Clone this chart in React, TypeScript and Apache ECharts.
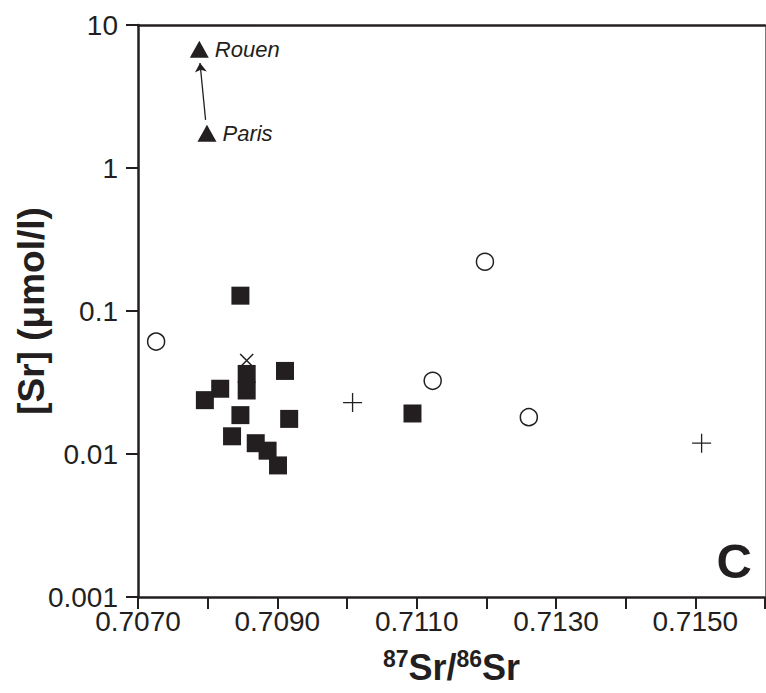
import React, { useEffect, useRef } from 'react';
import * as echarts from 'echarts';

const FONT = 'Liberation Sans, Arial, Helvetica, sans-serif';
const INK = '#231f20';

// Filled squares
const squareX = [0.70847, 0.70856, 0.70856, 0.70911, 0.70818, 0.70796, 0.70847, 0.70917, 0.70835, 0.70869, 0.70886, 0.70901, 0.71094];
const squareY = [0.128, 0.0363, 0.0278, 0.0381, 0.0286, 0.0238, 0.0187, 0.0176, 0.0133, 0.0119, 0.01055, 0.00832, 0.0192];
// Open circles
const circleX = [0.70726, 0.71198, 0.71123, 0.71261];
const circleY = [0.0611, 0.221, 0.0325, 0.0181];
// Plus signs
const plusX = [0.71008, 0.71509];
const plusY = [0.0229, 0.0119];
// X mark
const crossX = [0.70856];
const crossY = [0.045];
// Triangles (cities)
const cityNames = ['Rouen', 'Paris'];
const cityX = [0.70788, 0.70799];
const cityY = [6.76, 1.75];
// Arrow Paris -> Rouen
const arrowX = [0.70797, 0.70789];
const arrowY = [2.17, 5.42];

const zip = (xs: number[], ys: number[]) => xs.map((x, i) => [x, ys[i]]);

export default function App() {
  const ref = useRef<HTMLDivElement>(null);
  useEffect(() => {
    document.body.style.margin = '0';
    const chart = echarts.init(ref.current!, null, { renderer: 'svg' });
    chart.setOption({
      animation: false,
      backgroundColor: '#fff',
      grid: { left: 138, right: 1, top: 25, bottom: 96, containLabel: false, outerBoundsMode: 'none' },
      xAxis: [
        {
          type: 'value',
          position: 'bottom',
          min: 0.707,
          max: 0.716,
          interval: 0.001,
          axisLine: { show: true, onZero: false, lineStyle: { color: INK, width: 2.5 } },
          axisTick: { show: true, inside: false, length: 12, lineStyle: { color: INK, width: 2 } },
          splitLine: { show: false },
          axisLabel: {
            fontSize: 28,
            fontFamily: FONT,
            color: INK,
            margin: 10,
            formatter: (v: number) => {
              const k = Math.round(v * 10000);
              return (k - 7070) % 20 === 0 && k < 7160 ? (k / 10000).toFixed(4) : '';
            },
          },
          name: '{sup|87}{b|Sr/}{sup|86}{b|Sr}',
          nameLocation: 'middle',
          nameGap: 50,
          nameTextStyle: {
            rich: {
              b: { fontSize: 36, fontWeight: 'bold', fontFamily: FONT, color: INK, lineHeight: 40 },
              sup: { fontSize: 23, fontWeight: 'bold', fontFamily: FONT, color: INK, lineHeight: 40, verticalAlign: 'top' },
            },
          },
        },
        {
          type: 'value',
          position: 'top',
          min: 0.707,
          max: 0.716,
          axisLine: { show: true, onZero: false, lineStyle: { color: INK, width: 2.5 } },
          axisTick: { show: false },
          axisLabel: { show: false },
          splitLine: { show: false },
        },
      ],
      yAxis: [
        {
          type: 'log',
          logBase: 10,
          min: 0.001,
          max: 10,
          position: 'left',
          axisLine: { show: true, onZero: false, lineStyle: { color: INK, width: 2.5 } },
          axisTick: { show: true, inside: false, length: 12, lineStyle: { color: INK, width: 2 } },
          minorTick: { show: false },
          splitLine: { show: false },
          axisLabel: {
            fontSize: 28,
            fontFamily: FONT,
            color: INK,
            margin: 20,
            formatter: (v: number) => String(Number(v.toPrecision(1))),
          },
          name: '[Sr] (μmol/l)',
          nameLocation: 'middle',
          nameRotate: 90,
          nameGap: 88,
          nameMoveOverlap: false,
          nameTextStyle: { fontSize: 37, fontWeight: 'bold', fontFamily: FONT, color: INK },
        },
        {
          type: 'log',
          logBase: 10,
          min: 0.001,
          max: 10,
          position: 'right',
          axisLine: { show: true, onZero: false, lineStyle: { color: '#777', width: 1 } },
          axisTick: { show: false },
          axisLabel: { show: false },
          splitLine: { show: false },
        },
      ],
      graphic: [
        {
          type: 'text',
          right: 14,
          top: 536,
          style: { text: 'C', font: `bold 49px ${FONT}`, fill: INK },
        },
      ],
      series: [
        {
          type: 'scatter',
          name: 'cross',
          symbol: 'path://M0,0L10,10M10,0L0,10',
          symbolSize: 13,
          itemStyle: { color: 'none', borderColor: INK, borderWidth: 1.5, opacity: 1 },
          data: zip(crossX, crossY),
          z: 1,
        },
        {
          type: 'scatter',
          name: 'squares',
          symbol: 'rect',
          symbolSize: 18,
          itemStyle: { color: INK, opacity: 1 },
          data: zip(squareX, squareY),
          z: 2,
        },
        {
          type: 'scatter',
          name: 'circles',
          symbol: 'circle',
          symbolSize: 17,
          itemStyle: { color: '#fff', borderColor: INK, borderWidth: 1.5, opacity: 1 },
          data: zip(circleX, circleY),
          z: 2,
        },
        {
          type: 'scatter',
          name: 'plus',
          symbol: 'path://M0,10L20,10M10,0L10,20',
          symbolSize: 19,
          itemStyle: { color: 'none', borderColor: INK, borderWidth: 1.3, opacity: 1 },
          data: zip(plusX, plusY),
          z: 2,
        },
        {
          type: 'scatter',
          name: 'cities',
          symbol: 'triangle',
          symbolSize: [19, 17],
          itemStyle: { color: INK, opacity: 1 },
          label: {
            show: true,
            position: 'right',
            distance: 6,
            fontSize: 22,
            fontStyle: 'italic',
            fontFamily: FONT,
            color: INK,
            formatter: (p: any) => cityNames[p.dataIndex],
          },
          data: zip(cityX, cityY),
          markLine: {
            silent: true,
            symbol: ['none', 'arrow'],
            symbolSize: 9,
            label: { show: false },
            lineStyle: { color: INK, width: 1.3, type: 'solid', opacity: 1 },
            data: [[{ coord: [arrowX[0], arrowY[0]] }, { coord: [arrowX[1], arrowY[1]] }]],
          },
          z: 3,
        },
      ],
    });
    return () => chart.dispose();
  }, []);
  return <div ref={ref} style={{ width: 766, height: 693 }} />;
}
